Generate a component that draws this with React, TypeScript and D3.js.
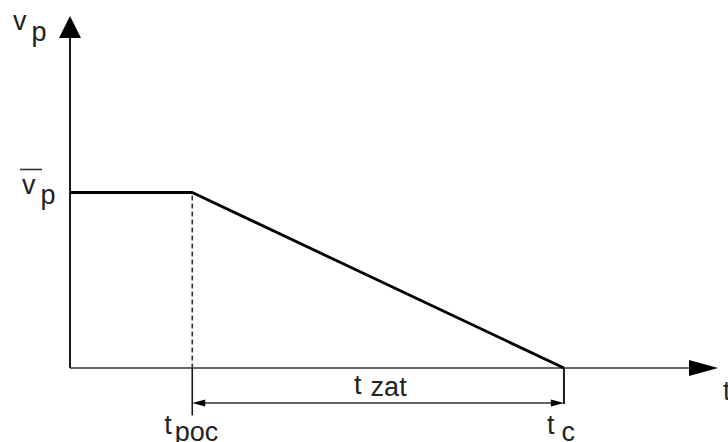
import React, { useRef, useEffect } from 'react';
import * as d3 from 'd3';

// profile of v_p over time: constant until t_poc, then linear decay to zero at t_c
const timeKnots = [0, 1.0, 4.04];
const speedKnots = [1.0, 1.0, 0];
const axisMax = { t: 5.3, v: 2.0 };
const tPoc = 1.0;
const tC = 4.04;
const dimLevel = -0.2;   // where the t_zat dimension line sits
const pocTickEnd = -0.27;

export default function App() {
  const svgRef = useRef<SVGSVGElement>(null);

  useEffect(() => {
    const w = 728;
    const h = 442;
    const svg = d3.select(svgRef.current).attr('width', w).attr('height', h);
    svg.selectAll('*').remove();

    const x = d3.scaleLinear().domain([0, axisMax.t]).range([70, 718]);
    const y = d3.scaleLinear().domain([0, axisMax.v]).range([368, 17]);
    const font = "'Liberation Sans', Arial, sans-serif";
    const ink = '#1a1a1a';

    // y axis + arrowhead
    svg.append('line')
       .attr('x1', x(0)).attr('y1', y(0))
       .attr('x2', x(0)).attr('y2', y(axisMax.v) + 20)
       .attr('stroke', ink).attr('stroke-width', 2);
    svg.append('path')
       .attr('d', `M${x(0)},${y(axisMax.v) - 1} L${x(0) - 11},${y(axisMax.v) + 21} L${x(0) + 11},${y(axisMax.v) + 21} Z`)
       .attr('fill', '#000');

    // x axis + arrowhead
    svg.append('line')
       .attr('x1', x(0)).attr('y1', y(0))
       .attr('x2', x(axisMax.t) - 28).attr('y2', y(0))
       .attr('stroke', '#333').attr('stroke-width', 1.6);
    svg.append('path')
       .attr('d', `M${x(axisMax.t)},${y(0)} L${x(axisMax.t) - 29},${y(0) - 8} L${x(axisMax.t) - 29},${y(0) + 8} Z`)
       .attr('fill', '#000');

    // dashed drop from the knee
    svg.append('line')
       .attr('x1', x(tPoc)).attr('y1', y(speedKnots[1]) + 3)
       .attr('x2', x(tPoc)).attr('y2', y(0))
       .attr('stroke', '#333').attr('stroke-width', 1.6)
       .attr('stroke-dasharray', '5,3');

    // extension lines
    svg.append('line')
       .attr('x1', x(tPoc)).attr('y1', y(0))
       .attr('x2', x(tPoc)).attr('y2', y(pocTickEnd))
       .attr('stroke', ink).attr('stroke-width', 1.6);
    svg.append('line')
       .attr('x1', x(tC)).attr('y1', y(0))
       .attr('x2', x(tC)).attr('y2', y(dimLevel) + 1)
       .attr('stroke', ink).attr('stroke-width', 2);

    // dimension line with arrows
    const dy = y(dimLevel);
    svg.append('line')
       .attr('x1', x(tPoc) + 10).attr('y1', dy)
       .attr('x2', x(tC) - 10).attr('y2', dy)
       .attr('stroke', '#333').attr('stroke-width', 1.5);
    svg.append('path')
       .attr('d', `M${x(tPoc)},${dy} L${x(tPoc) + 13},${dy - 3.5} L${x(tPoc) + 13},${dy + 3.5} Z`)
       .attr('fill', '#000');
    svg.append('path')
       .attr('d', `M${x(tC)},${dy} L${x(tC) - 13},${dy - 3.5} L${x(tC) - 13},${dy + 3.5} Z`)
       .attr('fill', '#000');

    // the profile itself
    const line = d3.line<number>()
      .x((d, i) => x(timeKnots[i]))
      .y(d => y(d));
    svg.append('path')
       .datum(speedKnots)
       .attr('d', line)
       .attr('fill', 'none')
       .attr('stroke', '#000')
       .attr('stroke-width', 2.8)
       .attr('stroke-linejoin', 'round');

    // labels
    const label = (lx: number, ly: number, main: string, sub: string, subDy: number, subDx = 0) => {
      const t = svg.append('text')
        .attr('x', lx).attr('y', ly)
        .attr('font-family', font).attr('font-size', 27)
        .attr('fill', '#222');
      t.append('tspan').text(main);
      if (sub) t.append('tspan').attr('dy', subDy).attr('dx', subDx).text(sub);
      return t;
    };

    label(x(0) - 57, y(axisMax.v) + 13, 'v', 'p', 11, 5);
    label(x(0) - 48, y(speedKnots[1]) + 1, 'v', 'p', 10, 5);
    svg.append('line')
       .attr('x1', x(0) - 50).attr('y1', y(speedKnots[1]) - 23)
       .attr('x2', x(0) - 28).attr('y2', y(speedKnots[1]) - 23)
       .attr('stroke', '#333').attr('stroke-width', 1.6);

    label((x(tPoc) + x(tC)) / 2 - 24, dy - 9, 't', 'zat', 2, 9);
    label(x(tPoc) - 28, y(pocTickEnd) + 19, 't', 'poc', 7, 3);
    label(x(tC) - 17, y(pocTickEnd) + 19, 't', 'c', 7, 7);
    label(x(axisMax.t) + 5, y(0) + 32, 't', '', 0);
  }, []);

  return (
    <div style={{ position: 'absolute', left: 0, top: 0 }}>
      <svg ref={svgRef} style={{ display: 'block', background: '#fff' }}></svg>
    </div>
  );
}
